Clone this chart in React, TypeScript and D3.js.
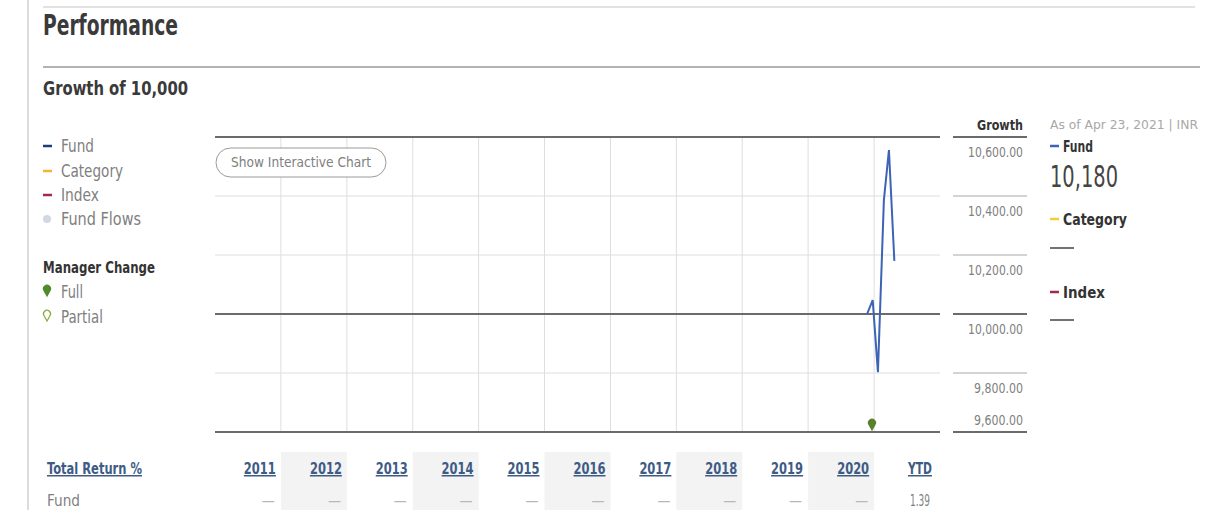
import React from "react";
import * as d3 from "d3";

const W = 1205;
const H = 510;

const fundDates = ["2020-11-23", "2020-12-24", "2021-01-22", "2021-02-24", "2021-03-24", "2021-04-23"];
const fundValues = [10000, 10047, 9803, 10386, 10556, 10180];
const managerChangeFull = ["2020-12-20"];
const yTicks = [9600, 9800, 10000, 10200, 10400, 10600];
const years = ["2011", "2012", "2013", "2014", "2015", "2016", "2017", "2018", "2019", "2020", "YTD"];
const fundReturns = ["—", "—", "—", "—", "—", "—", "—", "—", "—", "—", "1.39"];

const FONT = "'DejaVu Sans Condensed', 'DejaVu Sans', sans-serif";

type TP = {
  x: number;
  y: number;
  len?: number;
  size: number;
  bold?: boolean;
  fill: string;
  anchor?: "start" | "middle" | "end";
  underline?: boolean;
  children: React.ReactNode;
};

function T({ x, y, len, size, bold, fill, anchor, underline, children }: TP) {
  return (
    <text
      x={x}
      y={y}
      fontSize={size}
      fontWeight={bold ? "bold" : "normal"}
      fill={fill}
      textAnchor={anchor || "start"}
      textDecoration={underline ? "underline" : undefined}
      textLength={len}
      lengthAdjust={len ? "spacingAndGlyphs" : undefined}
      style={{ fontStretch: "condensed" }}
    >
      {children}
    </text>
  );
}

export default function App() {
  const plotL = 215, plotR = 940, plotT = 137, plotB = 432;
  const x = d3.scaleTime()
    .domain([new Date(2011, 0, 1), new Date(2022, 0, 1)])
    .range([plotL, plotR]);
  const y = d3.scaleLinear().domain([9600, 10600]).range([plotB, plotT]);
  const pts = fundDates.map((d, i) => [x(new Date(d + "T00:00:00")), y(fundValues[i])] as [number, number]);
  const line = d3.line();
  const yearStarts = d3.range(2011, 2023).map((yr) => new Date(yr, 0, 1));
  const dark = (v: number) => v === 9600 || v === 10000 || v === 10600;

  const pin = (cx: number, tip: number, fill: string, stroke: string) => {
    const r = 3.5;
    const cy = tip - 7;
    return (
      <path
        d={`M${cx},${tip} L${cx - r * 0.8},${cy + 2} A${r},${r} 0 1 1 ${cx + r * 0.8},${cy + 2} Z`}
        fill={fill}
        stroke={stroke}
        strokeWidth={1.2}
      />
    );
  };

  return (
    <svg width={W} height={H} style={{ position: "absolute", left: 0, top: 0, fontFamily: FONT }}>
      <rect width={W} height={H} fill="#fff" />
      {/* page frame */}
      <line x1={28} x2={28} y1={0} y2={H} stroke="#dcdcdc" strokeWidth={2} />
      <line x1={43} x2={1195} y1={7} y2={7} stroke="#e2e2e2" strokeWidth={2} />
      <T x={43} y={35} size={28} bold fill="#3a3a3a" len={135}>Performance</T>
      <line x1={43} x2={1200} y1={67} y2={67} stroke="#9a9a9a" strokeWidth={1.3} />
      <T x={43} y={95} size={20} bold fill="#3a3a3a" len={145}>Growth of 10,000</T>

      {/* left legend */}
      <line x1={43} x2={52} y1={146} y2={146} stroke="#1f3d7a" strokeWidth={2.5} />
      <T x={61} y={152} size={17} fill="#808080" len={33}>Fund</T>
      <line x1={43} x2={52} y1={171} y2={171} stroke="#f5b335" strokeWidth={2.5} />
      <T x={61} y={177} size={17} fill="#808080" len={62}>Category</T>
      <line x1={43} x2={52} y1={195} y2={195} stroke="#a3294d" strokeWidth={2.5} />
      <T x={61} y={201} size={17} fill="#808080" len={38}>Index</T>
      <circle cx={47} cy={219} r={4} fill="#d3d7e2" />
      <T x={61} y={225} size={17} fill="#808080" len={80}>Fund Flows</T>
      <T x={43} y={273} size={15} bold fill="#333" len={112}>Manager Change</T>
      {pin(47, 296, "#4f8a2b", "#4f8a2b")}
      <T x={61} y={298} size={17} fill="#808080" len={22}>Full</T>
      {pin(47, 321, "#fff", "#8aa83a")}
      <T x={61} y={323} size={17} fill="#808080" len={42}>Partial</T>

      {/* plot grid */}
      {yearStarts.slice(1, 11).map((d, i) => (
        <line key={"v" + i} x1={x(d)} x2={x(d)} y1={plotT} y2={plotB} stroke="#dedede" strokeWidth={1} />
      ))}
      {yTicks.map((v) => (
        <line
          key={"h" + v}
          x1={plotL}
          x2={plotR}
          y1={y(v)}
          y2={y(v)}
          stroke={dark(v) ? "#6b6b6b" : "#dedede"}
          strokeWidth={dark(v) ? 2 : 1}
        />
      ))}

      {/* show interactive button */}
      <rect x={216} y={148} width={170} height={29} rx={14.5} fill="#fff" stroke="#9a9a9a" strokeWidth={1} />
      <T x={231} y={167} size={14} fill="#808080" len={140}>Show Interactive Chart</T>

      {/* fund line */}
      <path d={line(pts) || ""} fill="none" stroke="#3d63b4" strokeWidth={2} strokeLinejoin="miter" />
      {managerChangeFull.map((d) => (
        <g key={d}>{pin(x(new Date(d + "T00:00:00")), 430, "#5b7f2a", "#5b7f2a")}</g>
      ))}

      {/* y labels on right */}
      <T x={1023} y={130} size={14} bold fill="#333" anchor="end" len={46}>Growth</T>
      {yTicks.map((v) => (
        <g key={"yl" + v}>
          <line
            x1={953}
            x2={1027}
            y1={y(v)}
            y2={y(v)}
            stroke={dark(v) ? "#6b6b6b" : "#a8a8a8"}
            strokeWidth={dark(v) ? 2 : 1}
          />
          <T
            x={1023}
            y={v === 9600 ? y(v) - 7 : y(v) + 20}
            size={14}
            fill="#808080"
            anchor="end"
            len={v >= 10000 ? 55 : 49}
          >
            {d3.format(",.2f")(v)}
          </T>
        </g>
      ))}

      {/* right panel */}
      <T x={1050} y={129} size={13} fill="#a8a8a8" len={148}>As of Apr 23, 2021 | INR</T>
      <line x1={1050} x2={1059} y1={146} y2={146} stroke="#3d63b4" strokeWidth={2.5} />
      <T x={1063} y={152} size={15} bold fill="#333" len={30}>Fund</T>
      <T x={1050} y={187} size={30} fill="#444" len={68}>10,180</T>
      <line x1={1050} x2={1059} y1={219} y2={219} stroke="#f0d030" strokeWidth={2.5} />
      <T x={1063} y={225} size={15} bold fill="#333" len={64}>Category</T>
      <line x1={1050} x2={1074} y1={248} y2={248} stroke="#444" strokeWidth={1.5} />
      <line x1={1050} x2={1059} y1={292} y2={292} stroke="#a3294d" strokeWidth={2.5} />
      <T x={1063} y={298} size={15} bold fill="#333" len={42}>Index</T>
      <line x1={1050} x2={1074} y1={320} y2={320} stroke="#444" strokeWidth={1.5} />

      {/* table */}
      {years.map((yr, i) => {
        const x0 = x(yearStarts[i]);
        const x1 = x(yearStarts[i + 1]);
        const isYtd = yr === "YTD";
        return (
          <g key={yr}>
            {i % 2 === 1 && i < 10 && (
              <rect x={x0} y={452} width={x1 - x0} height={H - 452} fill="#f3f3f3" />
            )}
            <T x={x1 - (isYtd ? 8 : 5)} y={474} size={15} bold fill="#3e5b86" anchor="end" underline len={isYtd ? 24 : 32}>
              {yr}
            </T>
            <T x={x1 - (isYtd ? 10 : 6)} y={506} size={16} fill={fundReturns[i] === "—" ? "#b8b8b8" : "#808080"} anchor="end" len={fundReturns[i] === "—" ? 13 : 20}>
              {fundReturns[i]}
            </T>
          </g>
        );
      })}
      <T x={47} y={474} size={15} bold fill="#3e5b86" underline len={95}>Total Return %</T>
      <T x={47} y={506} size={16} fill="#808080" len={33}>Fund</T>
    </svg>
  );
}
